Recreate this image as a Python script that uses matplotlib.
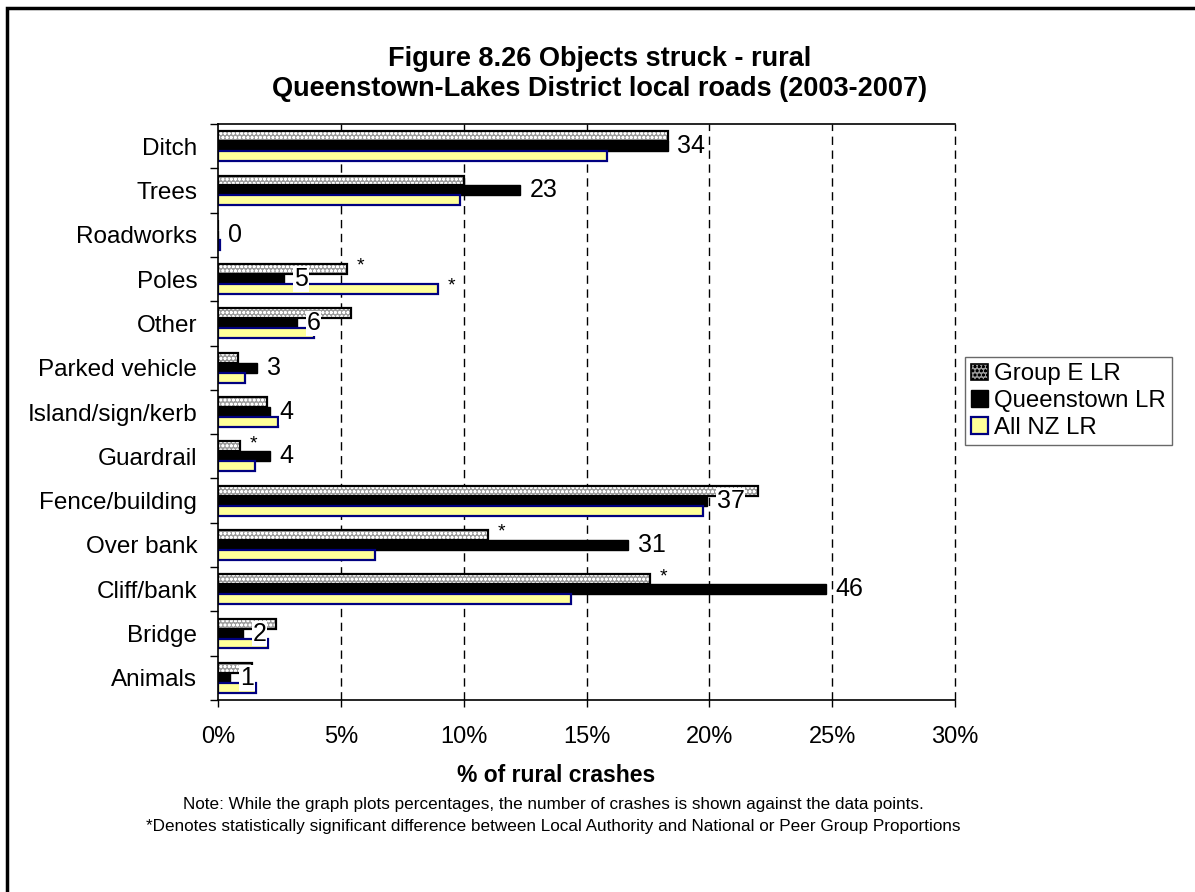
import matplotlib
matplotlib.use("Agg")
import matplotlib.pyplot as plt
from matplotlib.patches import Patch, Rectangle
import numpy as np

plt.rcParams.update(
    {
        "font.family": ["Liberation Sans", "DejaVu Sans"],
        "hatch.linewidth": 0.8,
    }
)

categories = [
    "Ditch",
    "Trees",
    "Roadworks",
    "Poles",
    "Other",
    "Parked vehicle",
    "Island/sign/kerb",
    "Guardrail",
    "Fence/building",
    "Over bank",
    "Cliff/bank",
    "Bridge",
    "Animals",
]
group_e = [18.3, 10.0, 0.0, 5.25, 5.4, 0.8, 2.0, 0.9, 22.0, 11.0, 17.6, 2.35, 1.4]
queenstown = [18.3, 12.3, 0.0, 2.7, 3.2, 1.6, 2.1, 2.1, 19.9, 16.7, 24.75, 1.0, 0.5]
all_nz = [15.85, 9.85, 0.1, 8.95, 3.9, 1.1, 2.45, 1.5, 19.75, 6.4, 14.35, 2.05, 1.55]
crash_counts = [34, 23, 0, 5, 6, 3, 4, 4, 37, 31, 46, 2, 1]
# * markers: significant vs peer group (after Group E bar) / vs national (after All NZ bar)
sig_group_e = [0, 0, 0, 1, 0, 0, 0, 1, 0, 1, 1, 0, 0]
sig_all_nz = [0, 0, 0, 1, 0, 0, 0, 0, 0, 1, 1, 0, 0]
series_names = ["Group E LR", "Queenstown LR", "All NZ LR"]
x_ticks = [0, 5, 10, 15, 20, 25, 30]

W, H = 1195, 892
fig = plt.figure(figsize=(W / 100, H / 100), dpi=100)
ax = fig.add_axes([218 / W, 1 - 700 / H, (955 - 218) / W, (700 - 124) / H])

n = len(categories)
y = np.arange(n)
h = 0.225

# Group E: dotted grey pattern with black outline
ax.barh(y - h, group_e, height=h, color="#9c9c9c", edgecolor="white",
        hatch="oooo", linewidth=0, zorder=2)
ax.barh(y - h, group_e, height=h, fill=False, edgecolor="black",
        linewidth=1.6, zorder=2.1)
ax.barh(y, queenstown, height=h, color="black", edgecolor="black",
        linewidth=1.0, zorder=2.2)
ax.barh(y + h, all_nz, height=h, color="#ffff99", edgecolor="#000080",
        linewidth=1.6, zorder=2.3)

# crash counts next to the Queenstown bars
for i in range(n):
    ax.annotate(str(crash_counts[i]), xy=(queenstown[i], y[i]),
                xytext=(7, 0), textcoords="offset points",
                ha="left", va="center", fontsize=18, zorder=5,
                bbox=dict(facecolor="white", edgecolor="none", pad=0.5))

# significance stars
for i in range(n):
    if sig_group_e[i]:
        ax.annotate("*", xy=(group_e[i], y[i] - h), xytext=(7, 2),
                    textcoords="offset points", ha="left", va="center",
                    fontsize=14, zorder=1.5)
    if sig_all_nz[i]:
        ax.annotate("*", xy=(all_nz[i], y[i] + h), xytext=(7, 2),
                    textcoords="offset points", ha="left", va="center",
                    fontsize=14, zorder=1.5)

ax.set_xlim(0, 30)
ax.set_ylim(n - 0.5, -0.5)
ax.set_xticks(x_ticks)
ax.set_xticklabels([f"{t}%" for t in x_ticks], fontsize=17)
ax.tick_params(axis="x", direction="out", length=5, width=1, pad=14)

# category ticks between groups, labels at the centers
ax.set_yticks(np.arange(n + 1) - 0.5)
ax.set_yticklabels([])
ax.set_yticks(y, minor=True)
ax.set_yticklabels(categories, minor=True, fontsize=17.5)
ax.tick_params(axis="y", which="major", direction="out", length=6, width=1)
ax.tick_params(axis="y", which="minor", length=0, pad=15)

for xv in x_ticks[1:]:
    ax.axvline(xv, color="black", linestyle=(0, (6, 4)), linewidth=1,
               zorder=1, clip_on=False)

ax.spines["right"].set_visible(False)
for s in ["left", "bottom", "top"]:
    ax.spines[s].set_linewidth(1.2)
    ax.spines[s].set_color("black")

fig.text(0.502, 1 - 74 / H,
         "Figure 8.26 Objects struck - rural\nQueenstown-Lakes District local roads (2003-2007)",
         ha="center", va="center", fontsize=19.5, fontweight="bold", linespacing=1.15)
fig.text(556 / W, 1 - 776 / H, "% of rural crashes", ha="center", va="center",
         fontsize=16.5, fontweight="bold")
fig.text(553 / W, 1 - 804 / H,
         "Note: While the graph plots percentages, the number of crashes is shown against the data points.",
         ha="center", va="center", fontsize=12.3)
fig.text(553 / W, 1 - 826 / H,
         "*Denotes statistically significant difference between Local Authority and National or Peer Group Proportions",
         ha="center", va="center", fontsize=12.3)

handles = [
    Patch(facecolor="#9c9c9c", edgecolor="black", hatch="oooo", linewidth=1.2),
    Patch(facecolor="black", edgecolor="black"),
    Patch(facecolor="#ffff99", edgecolor="#000080", linewidth=1.6),
]
leg = fig.legend(handles, series_names, loc="lower left",
                 bbox_to_anchor=(965 / W, 1 - 445 / H), fontsize=17.3,
                 frameon=True, fancybox=False, edgecolor="#444444",
                 handlelength=0.7, handleheight=0.7, handletextpad=0.25,
                 borderpad=0.25, labelspacing=0.2, borderaxespad=0)
leg.get_frame().set_linewidth(1.0)

# outer chart border (left and top edges visible)
fig.add_artist(Rectangle((7 / W, -0.5), 2.0, 1.5 - 8 / H, transform=fig.transFigure,
                         fill=False, edgecolor="black", linewidth=2.5))

fig.savefig("out.png", dpi=100)
